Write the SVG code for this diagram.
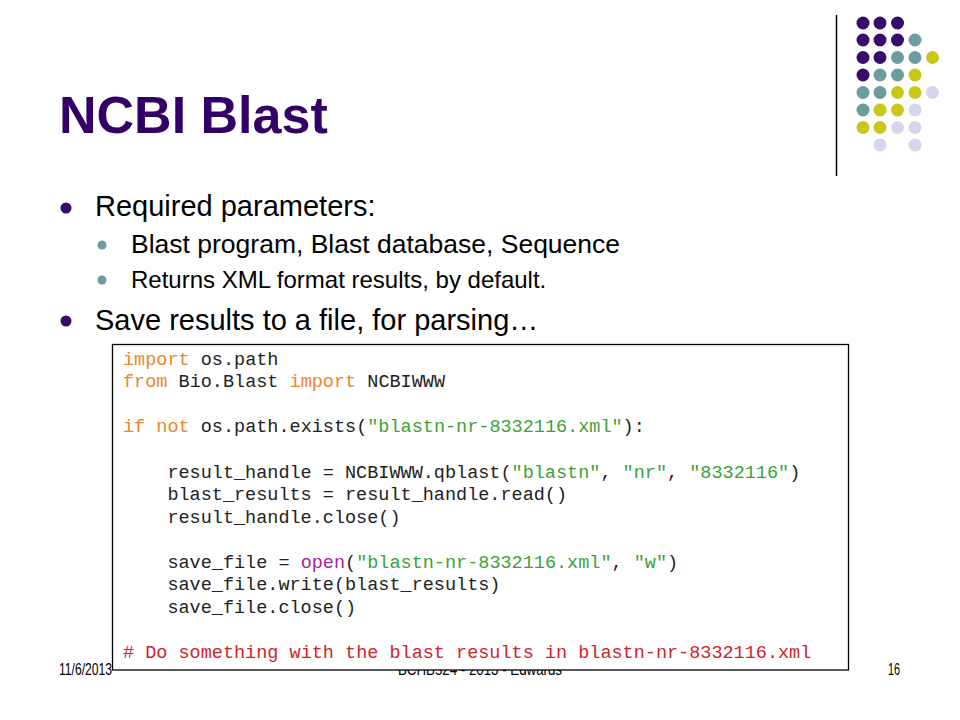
<svg xmlns="http://www.w3.org/2000/svg" width="960" height="720" viewBox="0 0 960 720">
<style>
.title{font-family:"Liberation Sans",Arial,sans-serif;font-weight:bold;font-size:52px;fill:#330066}
.b1{font-family:"Liberation Sans",Arial,sans-serif;font-size:29px;fill:#000}
.b2{font-family:"Liberation Sans",Arial,sans-serif;font-size:26.5px;fill:#000}
.b3{font-family:"Liberation Sans",Arial,sans-serif;font-size:24px;fill:#000}
.foot{font-family:"Liberation Sans Narrow","Liberation Sans",Arial,sans-serif;font-size:16px;fill:#000}
.code{font-family:"Liberation Mono","Courier New",monospace;font-size:18.5px;fill:#222}
.kw{fill:#e8862e}
.str{fill:#3aa335}
.fn{fill:#a3259f}
.cm{fill:#d0242a}
.P{fill:#3a0a6a}.T{fill:#6c9c9f}.Y{fill:#c9c818}.L{fill:#d5d5ec}
</style>
<rect width="960" height="720" fill="#fff"/>
<g id="logo">
<line x1="836.5" y1="15" x2="836.5" y2="176" stroke="#000" stroke-width="1.5"/>
<circle class="P" cx="863" cy="23" r="6.5"/><circle class="P" cx="880" cy="23" r="6.5"/><circle class="P" cx="897.5" cy="23" r="6.5"/>
<circle class="P" cx="863" cy="40" r="6.5"/><circle class="P" cx="880" cy="40" r="6.5"/><circle class="P" cx="897.5" cy="40" r="6.5"/><circle class="T" cx="915" cy="40" r="6.5"/>
<circle class="P" cx="863" cy="57.5" r="6.5"/><circle class="P" cx="880" cy="57.5" r="6.5"/><circle class="T" cx="897.5" cy="57.5" r="6.5"/><circle class="T" cx="915" cy="57.5" r="6.5"/><circle class="Y" cx="932.5" cy="57.5" r="6.5"/>
<circle class="P" cx="863" cy="75" r="6.5"/><circle class="T" cx="880" cy="75" r="6.5"/><circle class="T" cx="897.5" cy="75" r="6.5"/><circle class="Y" cx="915" cy="75" r="6.5"/>
<circle class="T" cx="863" cy="92.5" r="6.5"/><circle class="T" cx="880" cy="92.5" r="6.5"/><circle class="Y" cx="897.5" cy="92.5" r="6.5"/><circle class="Y" cx="915" cy="92.5" r="6.5"/><circle class="L" cx="932.5" cy="92.5" r="6.5"/>
<circle class="T" cx="863" cy="110" r="6.5"/><circle class="Y" cx="880" cy="110" r="6.5"/><circle class="Y" cx="897.5" cy="110" r="6.5"/><circle class="L" cx="915" cy="110" r="6.5"/>
<circle class="Y" cx="863" cy="127.5" r="6.5"/><circle class="Y" cx="880" cy="127.5" r="6.5"/><circle class="L" cx="897.5" cy="127.5" r="6.5"/><circle class="L" cx="915" cy="127.5" r="6.5"/>
<circle class="L" cx="880" cy="145" r="6.5"/><circle class="L" cx="915" cy="145" r="6.5"/>
</g>
<g id="title"><text class="title" x="59" y="133">NCBI Blast</text></g>
<g id="bullets">
<circle cx="66" cy="208" r="5.5" fill="#3a0a6a"/>
<text class="b1" x="95" y="216">Required parameters:</text>
<circle cx="102" cy="245" r="4.5" fill="#6c9c9f"/>
<text class="b2" x="131" y="253">Blast program, Blast database, Sequence</text>
<circle cx="102" cy="280" r="4.5" fill="#6c9c9f"/>
<text class="b3" x="131" y="288">Returns XML format results, by default.</text>
<circle cx="66" cy="321" r="5.5" fill="#3a0a6a"/>
<text class="b1" x="95" y="330">Save results to a file, for parsing…</text>
</g>
<g id="footer">
<text class="foot" x="59" y="675" textLength="53" lengthAdjust="spacingAndGlyphs">11/6/2013</text>
<text class="foot" x="398" y="675" textLength="164" lengthAdjust="spacingAndGlyphs">BCHB524 - 2013 - Edwards</text>
<text class="foot" x="888" y="675" textLength="12" lengthAdjust="spacingAndGlyphs">16</text>
</g>
<g id="codebox">
<rect x="112.5" y="344.5" width="736" height="325.5" fill="#fff" stroke="#000" stroke-width="1.3"/>
<text class="code" x="123" y="364.5"><tspan class="kw">import</tspan> os.path</text>
<text class="code" x="123" y="387"><tspan class="kw">from</tspan> Bio.Blast <tspan class="kw">import</tspan> NCBIWWW</text>
<text class="code" x="123" y="432"><tspan class="kw">if not</tspan> os.path.exists(<tspan class="str">"blastn-nr-8332116.xml"</tspan>):</text>
<text class="code" x="167.4" y="477.5">result_handle = NCBIWWW.qblast(<tspan class="str">"blastn"</tspan>, <tspan class="str">"nr"</tspan>, <tspan class="str">"8332116"</tspan>)</text>
<text class="code" x="167.4" y="500">blast_results = result_handle.read()</text>
<text class="code" x="167.4" y="522.5">result_handle.close()</text>
<text class="code" x="167.4" y="567.5">save_file = <tspan class="fn">open</tspan>(<tspan class="str">"blastn-nr-8332116.xml"</tspan>, <tspan class="str">"w"</tspan>)</text>
<text class="code" x="167.4" y="590">save_file.write(blast_results)</text>
<text class="code" x="167.4" y="612.5">save_file.close()</text>
<text class="code cm" x="123" y="657.5"># Do something with the blast results in blastn-nr-8332116.xml</text>
</g>
</svg>
